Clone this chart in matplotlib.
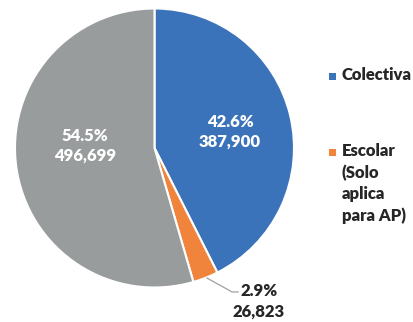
import matplotlib
matplotlib.use("Agg")
import matplotlib.pyplot as plt
from matplotlib.patches import Rectangle

categories = ["Colectiva", "Escolar\n(Solo\naplica\npara AP)", "Otra"]
values = [387900, 26823, 496699]
pct_labels = ["42.6%", "2.9%", "54.5%"]
value_labels = ["387,900", "26,823", "496,699"]
colors = ["#3B73BB", "#F0843C", "#999C9C"]

plt.rcParams['font.family'] = ['Lato', 'DejaVu Sans']

W, H = 413, 322
fig = plt.figure(figsize=(W / 100, H / 100), dpi=100)
cx, cy, r = 154.5, 148, 139.5
ax = fig.add_axes([(cx - r) / W, 1 - (cy + r) / H, 2 * r / W, 2 * r / H])

wedges, _ = ax.pie(values, colors=colors, startangle=90, counterclock=False,
                   wedgeprops=dict(edgecolor="white", linewidth=1.5), radius=1.0)
ax.set_xlim(-1, 1)
ax.set_ylim(-1, 1)
ax.set_aspect("equal")
ax.axis("off")

FS = 12
TXT = "#262626"
LS = 1.3
# inside labels
ax.text(0.541, 0.115, pct_labels[0] + "\n" + value_labels[0], ha="center", va="center",
        color="white", fontsize=FS, fontweight="heavy", linespacing=LS)
ax.text(-0.498, 0.015, pct_labels[2] + "\n" + value_labels[2], ha="center", va="center",
        color="white", fontsize=FS, fontweight="heavy", linespacing=LS)

# outside label for small slice with leader line
ax.plot([0.376, 0.556, 0.599], [-0.932, -1.032, -1.032], color="#A0A0A0", lw=0.9,
        clip_on=False)
ax.text(0.749, -1.10, pct_labels[1] + "\n" + value_labels[1], ha="center", va="center",
        color=TXT, fontsize=FS, fontweight="heavy", linespacing=LS)

# legend (only the two first categories, as in the reference)
legend_y = [76, 152.5]
for cat, col, yy in zip(categories[:2], colors[:2], legend_y):
    fig.patches.append(Rectangle((329 / W, 1 - (yy + 3.5) / H), 7 / W, 7 / H,
                                 transform=fig.transFigure, facecolor=col,
                                 edgecolor="none"))
    fig.text(342 / W, 1 - (yy - 9.5) / H, cat, ha="left", va="top", color=TXT,
             fontsize=FS, fontweight="heavy", linespacing=1.4)

fig.savefig("out.png", dpi=100)
